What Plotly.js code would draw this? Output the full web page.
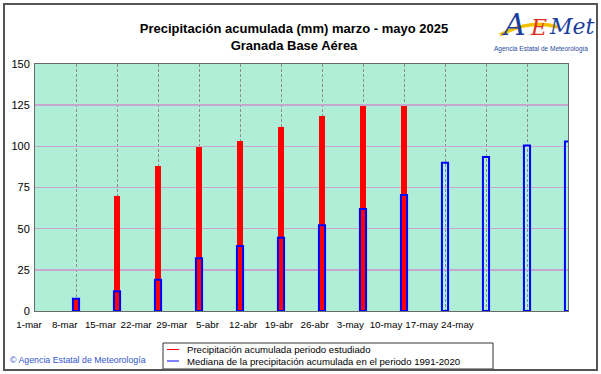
<!DOCTYPE html>
<html>
<head>
<meta charset="utf-8">
<script src="https://cdn.plot.ly/plotly-3.0.1.min.js"></script>
<style>
  body { margin: 0; padding: 0; background: #ffffff; }
  #wrap { position: relative; width: 601px; height: 374px; }
  #chart { width: 601px; height: 374px; }
  #frame { position: absolute; left: 3px; top: 3px; width: 595px; height: 368px;
           box-sizing: border-box; border: 2px solid #555555; pointer-events: none; }
</style>
</head>
<body>
<div id="wrap"><div id="chart"></div><div id="frame"></div></div>
<script>
// Weekly dates (1 March - 31 May 2025)
const dates = ['2025-03-01','2025-03-08','2025-03-15','2025-03-22','2025-03-29','2025-04-05',
               '2025-04-12','2025-04-19','2025-04-26','2025-05-03','2025-05-10','2025-05-17',
               '2025-05-24','2025-05-31'];
const tickLabels = ['1-mar','8-mar','15-mar','22-mar','29-mar','5-abr','12-abr','19-abr',
                    '26-abr','3-may','10-may','17-may','24-may'];
// Accumulated precipitation in the studied period (mm)
const precipObs = [null, 7, 70, 88, 99.5, 103.5, 112, 118.5, 124.5, 124.5, null, null, null, null];
// Median accumulated precipitation 1991-2020 (mm)
const precipMedian = [null, 7.5, 12, 19, 32, 39.5, 44.5, 52, 62, 70.5, 90, 93.5, 100.5, 103];
const legendNames = ['Precipitación acumulada periodo estudiado',
                     'Mediana de la precipitación acumulada en el periodo 1991-2020'];

const DAY = 86400000;
const FONT = 'Liberation Sans, Arial, sans-serif';

// Page geometry (pixels)
const L = 15, R = 33, T = 64, B = 63;
const W = 601 - L - R, H = 374 - T - B;
const px2x = px => (px - L) / W;
const px2y = py => (374 - B - py) / H;

// The tick labels in the original are laid out on their own (compressed) scale
const labelStartPx = 29, labelStepPx = 35.7;
function fmt(ms) { return new Date(ms).toISOString().replace('T', ' ').replace('Z', ''); }
const t0 = Date.parse(dates[0] + 'T00:00:00Z');
const lblRange = [fmt(t0 - (labelStartPx - L) / labelStepPx * 7 * DAY),
                  fmt(t0 + (601 - R - labelStartPx) / labelStepPx * 7 * DAY)];

const traces = [
  { type: 'bar', x: dates, y: precipObs, width: DAY * 1.0, xaxis: 'x', yaxis: 'y',
    marker: { color: '#ff0000', line: { width: 0 } }, showlegend: false, hoverinfo: 'x+y' },
  { type: 'bar', x: dates, y: precipMedian, width: DAY * 1.05, xaxis: 'x', yaxis: 'y',
    cliponaxis: false,
    marker: { color: 'rgba(0,0,0,0)', line: { color: '#0000ff', width: 2 } },
    showlegend: false, hoverinfo: 'x+y' },
  { type: 'scatter', mode: 'markers', x: dates.slice(0, tickLabels.length),
    y: tickLabels.map(() => null), xaxis: 'x2', yaxis: 'y2',
    showlegend: false, hoverinfo: 'skip' }
];

const layout = {
  width: 601, height: 374,
  margin: { l: L, r: R, t: T, b: B, autoexpand: false },
  paper_bgcolor: '#ffffff',
  plot_bgcolor: 'rgba(0,0,0,0)',
  barmode: 'overlay',
  bargap: 0,
  showlegend: false,
  font: { family: FONT, color: '#000000', size: 11 },
  title: {
    text: '<b>Precipitación acumulada (mm) marzo - mayo 2025</b><br><b>Granada Base Aérea</b>',
    font: { family: FONT, size: 13, color: '#000000' },
    x: 294 / 601, xref: 'container', xanchor: 'center',
    y: 1 - 33 / 374, yref: 'container', yanchor: 'middle'
  },
  xaxis: {
    type: 'date',
    domain: [px2x(35), 1],
    anchor: 'y',
    range: [dates[0], dates[dates.length - 1]],
    tickvals: dates.slice(0, tickLabels.length),
    showticklabels: false,
    showgrid: true, gridcolor: '#8c8c8c', griddash: '3px,2px', gridwidth: 1,
    zeroline: false,
    showline: true, linecolor: '#6a6a6a', linewidth: 1, mirror: true,
    ticks: '', automargin: false, fixedrange: true
  },
  yaxis: {
    anchor: 'x',
    range: [0, 150],
    tickvals: [0, 25, 50, 75, 100, 125, 150],
    showgrid: true, gridcolor: '#c6a8cf', gridwidth: 1.5,
    zeroline: false,
    showline: true, linecolor: '#6a6a6a', linewidth: 1, mirror: true,
    ticks: '', ticklabelstandoff: 2, automargin: false,
    tickfont: { family: FONT, size: 11, color: '#000000' },
    fixedrange: true
  },
  xaxis2: {
    type: 'date',
    domain: [0, 1],
    anchor: 'y2',
    side: 'bottom',
    range: lblRange,
    tickvals: dates.slice(0, tickLabels.length),
    ticktext: tickLabels,
    tickangle: 0,
    showgrid: false, zeroline: false, showline: false,
    ticks: '', ticklabelstandoff: 6, automargin: false,
    tickfont: { family: FONT, size: 9.8, color: '#000000' },
    fixedrange: true
  },
  yaxis2: {
    anchor: 'x2',
    domain: [0, 1],
    range: [0, 150],
    visible: false,
    showgrid: false, zeroline: false, fixedrange: true
  },
  annotations: [
    { text: '© Agencia Estatal de Meteorología', xref: 'paper', yref: 'paper',
      x: px2x(8), y: px2y(360), xanchor: 'left', yanchor: 'middle',
      showarrow: false, font: { family: FONT, size: 8.8, color: '#3355cc' } },
    { text: legendNames[0], xref: 'paper', yref: 'paper',
      x: px2x(185), y: px2y(349.5), xanchor: 'left', yanchor: 'middle',
      showarrow: false, font: { family: FONT, size: 9.6, color: '#000000' } },
    { text: legendNames[1], xref: 'paper', yref: 'paper',
      x: px2x(185), y: px2y(361), xanchor: 'left', yanchor: 'middle',
      showarrow: false, font: { family: FONT, size: 9.6, color: '#000000' } },
    { text: '<i>A</i>', xref: 'paper', yref: 'paper', x: px2x(513), y: px2y(25),
      xanchor: 'center', yanchor: 'middle', showarrow: false,
      font: { family: 'DejaVu Serif, serif', size: 30, color: '#1b3fa0' } },
    { text: '<i>E</i>', xref: 'paper', yref: 'paper', x: px2x(538), y: px2y(27),
      xanchor: 'center', yanchor: 'middle', showarrow: false,
      font: { family: 'DejaVu Serif, serif', size: 22, color: '#e03020' } },
    { text: '<i>Met</i>', xref: 'paper', yref: 'paper', x: px2x(547), y: px2y(26),
      xanchor: 'left', yanchor: 'middle', showarrow: false,
      font: { family: 'DejaVu Serif, serif', size: 22, color: '#1b3fa0' } },
    { text: 'Agencia Estatal de Meteorología', xref: 'paper', yref: 'paper',
      x: px2x(541), y: px2y(49), xanchor: 'center', yanchor: 'middle',
      showarrow: false, font: { family: FONT, size: 6.5, color: '#2a4aa0' } }
  ],
  shapes: [
    // plot background
    { type: 'rect', xref: 'x domain', yref: 'y domain', x0: 0, x1: 1, y0: 0, y1: 1,
      layer: 'below', fillcolor: '#b0eed8', line: { width: 0 } },
    // legend box
    { type: 'rect', xref: 'paper', yref: 'paper', x0: px2x(163), x1: px2x(493),
      y0: px2y(343), y1: px2y(369), layer: 'above', fillcolor: '#ffffff',
      line: { color: '#333333', width: 1 } },
    { type: 'line', xref: 'paper', yref: 'paper', x0: px2x(167), x1: px2x(179),
      y0: px2y(349.5), y1: px2y(349.5), line: { color: '#ff0000', width: 1 } },
    { type: 'line', xref: 'paper', yref: 'paper', x0: px2x(167), x1: px2x(179),
      y0: px2y(361), y1: px2y(361), line: { color: '#0000ff', width: 1 } },
    // logo swoosh
    { type: 'path', xref: 'paper', yref: 'paper', layer: 'above',
      path: 'M ' + px2x(500) + ',' + px2y(35) +
            ' Q ' + px2x(530) + ',' + px2y(19) +
            ' ' + px2x(558) + ',' + px2y(27),
      line: { color: '#f5c000', width: 3.5 } }
  ]
};

Plotly.newPlot('chart', traces, layout, { displayModeBar: false, staticPlot: true });
</script>
</body>
</html>
